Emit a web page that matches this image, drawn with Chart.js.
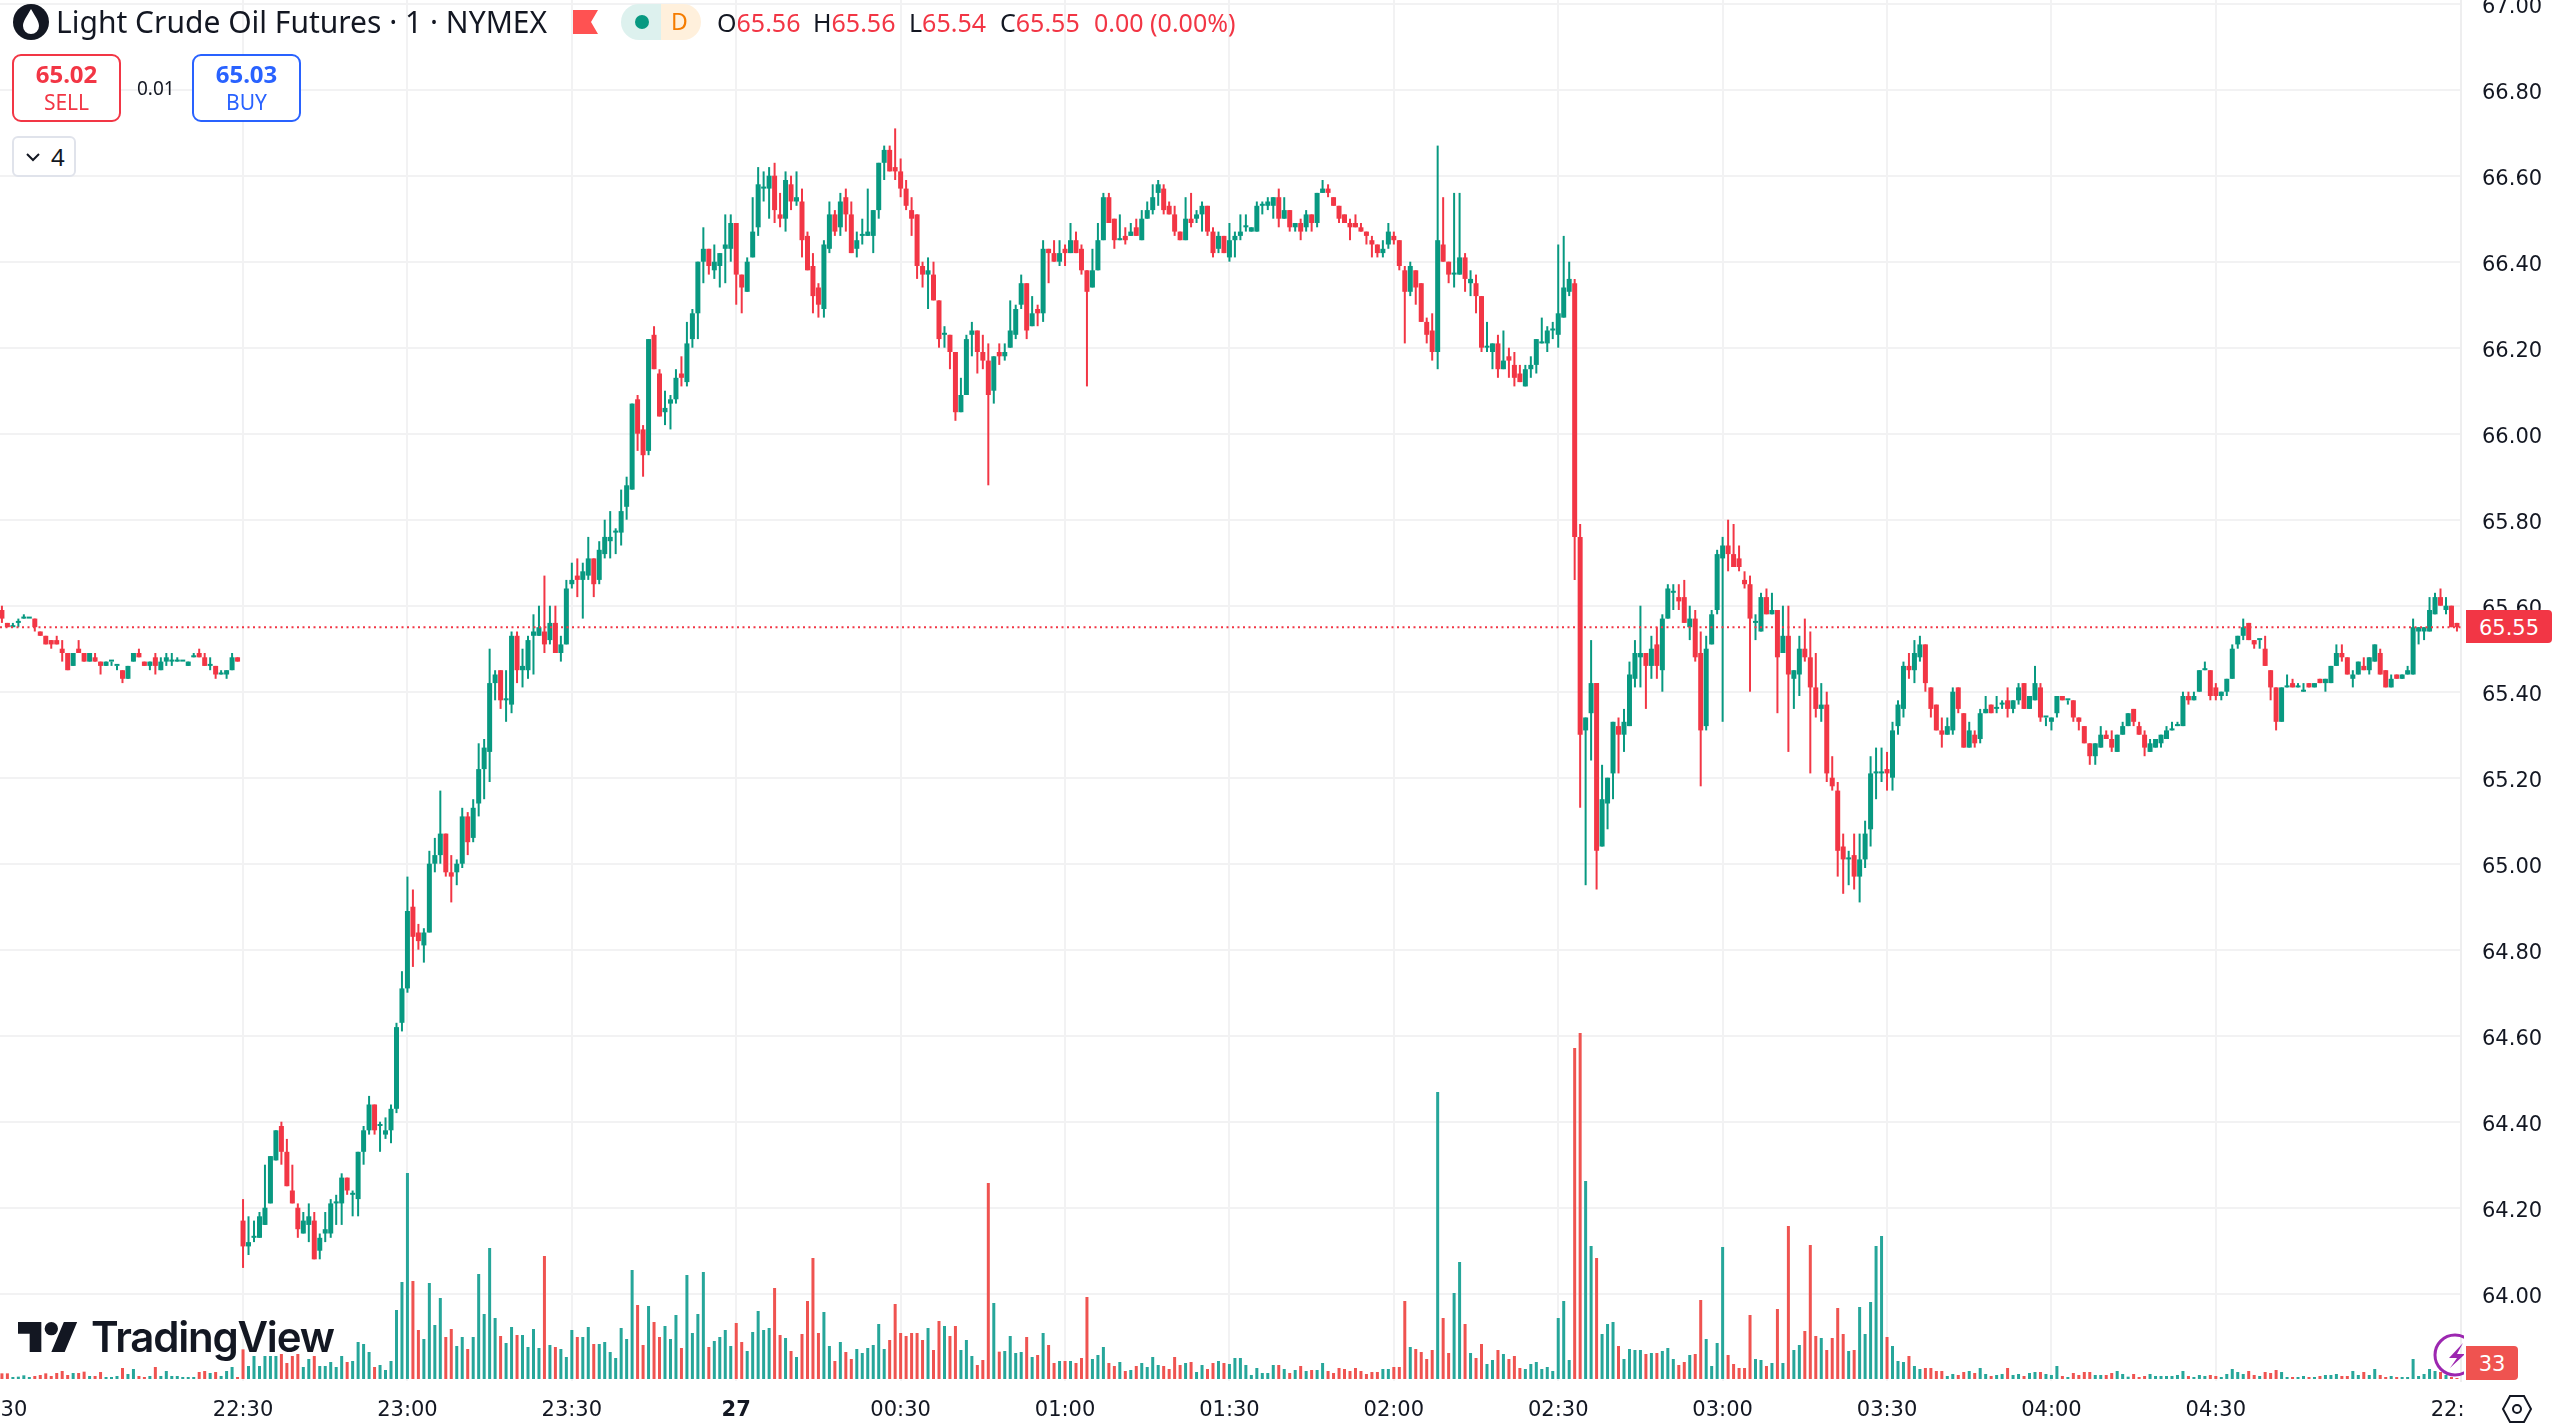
<!DOCTYPE html>
<html>
<head>
<meta charset="utf-8">
<title>Light Crude Oil Futures</title>
<script src="https://cdn.jsdelivr.net/npm/chart.js@4/dist/chart.umd.min.js"></script>
<style>
    html, body { margin: 0; padding: 0; background: #fff; overflow: hidden; }
    #wrap { position: relative; width: 2558px; height: 1428px; overflow: hidden; font-family: "Noto Sans", sans-serif; color: #131722; }
    canvas { position: absolute; left: 0; top: 0; }
    .lbl { position: absolute; white-space: nowrap; line-height: 1; }
    .red { color: #F23645; }
    .box { position: absolute; box-sizing: border-box; border-radius: 9px; border: 2px solid; background: #fff; }
</style>
</head>
<body>
<div id="wrap">
    <canvas id="myChart" width="2558" height="1428"></canvas>

    <svg class="lbl" style="left:12px;top:3px" width="38" height="38" viewBox="0 0 38 38">
        <circle cx="19" cy="19" r="18" fill="#131722"/>
        <path d="M19 6 C15 13 11 18 11 23 a8 8 0 0 0 16 0 C27 18 23 13 19 6Z" fill="#fff"/>
    </svg>
    <div class="lbl" style="left:56px;top:7px;font-size:30px">Light Crude Oil Futures · 1 · NYMEX</div>
    <svg class="lbl" style="left:573px;top:10px" width="25" height="24" viewBox="0 0 25 24">
        <path d="M0 0H25L18 12L25 24H0Z" fill="#FF5252"/>
    </svg>
    <svg class="lbl" style="left:621px;top:4px" width="80" height="36" viewBox="0 0 80 36">
        <path d="M18 0H40V36H18A18 18 0 0 1 18 0Z" fill="#DDF1EE"/>
        <path d="M40 0H62A18 18 0 0 1 62 36H40Z" fill="#FFF0DC"/>
        <circle cx="21" cy="18" r="7" fill="#089981"/>
    </svg>
    <div class="lbl" style="left:671px;top:10px;font-size:23px;color:#F57C00">D</div>
    <div class="lbl" style="left:717px;top:10px;font-size:25px">O<span class="red">65.56</span></div>
    <div class="lbl" style="left:813px;top:10px;font-size:25px">H<span class="red">65.56</span></div>
    <div class="lbl" style="left:909px;top:10px;font-size:25px">L<span class="red">65.54</span></div>
    <div class="lbl" style="left:1000px;top:10px;font-size:25px">C<span class="red">65.55</span></div>
    <div class="lbl red" style="left:1094px;top:10px;font-size:25px">0.00 (0.00%)</div>

    <div class="box" style="left:12px;top:54px;width:109px;height:68px;border-color:#F23645"></div>
    <div class="lbl red" style="left:12px;width:109px;text-align:center;top:62px;font-size:24px;font-weight:700">65.02</div>
    <div class="lbl red" style="left:12px;width:109px;text-align:center;top:92px;font-size:21px">SELL</div>
    <div class="lbl" style="left:137px;top:79px;font-size:19px">0.01</div>
    <div class="box" style="left:192px;top:54px;width:109px;height:68px;border-color:#2962FF"></div>
    <div class="lbl" style="left:192px;width:109px;text-align:center;top:62px;font-size:24px;font-weight:700;color:#2962FF">65.03</div>
    <div class="lbl" style="left:192px;width:109px;text-align:center;top:92px;font-size:21px;color:#2962FF">BUY</div>

    <div class="box" style="left:12px;top:136px;width:64px;height:41px;border-color:#e0e3eb;border-radius:6px"></div>
    <svg class="lbl" style="left:25px;top:152px" width="16" height="10" viewBox="0 0 16 10">
        <path d="M2 2L8 8L14 2" fill="none" stroke="#131722" stroke-width="2"/>
    </svg>
    <div class="lbl" style="left:51px;top:145px;font-size:24px">4</div>

    <svg class="lbl" style="left:18px;top:1322px" width="60" height="30" viewBox="0 4 36 18">
        <path d="M14 22H7V11H0V4h14v18zM28 22h-8l7.5-18h8L28 22z" fill="#131722"/>
        <circle cx="20" cy="8" r="4" fill="#131722"/>
    </svg>
    <div class="lbl" style="left:91px;top:1316px;font-size:42px;font-weight:600;font-family:Inter,sans-serif;letter-spacing:-1.2px">TradingView</div>

    <div class="lbl" style="left:2466px;top:610px;width:86px;height:33px;background:#F23645;color:#fff;border-radius:0 4px 4px 0;font:21px 'DejaVu Sans';line-height:37px;text-align:center;overflow:hidden">65.55</div>
    <div style="position:absolute;left:2425px;top:1330px;width:39px;height:50px;overflow:hidden">
        <svg width="60" height="50" viewBox="0 0 60 50">
            <circle cx="30" cy="25" r="20" fill="none" stroke="#9C27B0" stroke-width="3"/>
            <path d="M38 13L24 28H32L25 38L40 24H32Z" fill="#9C27B0"/>
        </svg>
    </div>
    <div class="lbl" style="left:2466px;top:1346px;width:52px;height:34px;background:#EF5350;color:#fff;border-radius:0 4px 4px 0;font:21px 'DejaVu Sans';line-height:36px;text-align:center;overflow:hidden">33</div>
    <svg class="lbl" style="left:2501px;top:1393px" width="32" height="32" viewBox="0 0 32 32">
        <path d="M9 3H23L30 16L23 29H9L2 16Z" fill="none" stroke="#131722" stroke-width="2"/>
        <circle cx="16" cy="16" r="4" fill="none" stroke="#131722" stroke-width="2"/>
    </svg>
</div>

<script>
const opens = [
    65.59,65.56,65.55,65.56,65.57,65.57,65.57,65.54,65.53,65.52,
    65.52,65.50,65.49,65.46,65.50,65.49,65.47,65.48,65.47,65.46,
    65.47,65.46,65.45,65.43,65.47,65.49,65.47,65.46,65.48,65.45,
    65.47,65.47,65.47,65.47,65.46,65.48,65.49,65.48,65.46,65.46,
    65.44,65.44,65.45,65.48,
    64.17,64.11,64.13,64.13,64.16,64.21,64.31,64.39,64.33,64.24,
    64.20,64.14,64.16,64.17,64.10,64.14,64.14,64.21,64.21,64.27,
    64.23,64.22,64.33,64.38,64.44,64.39,64.37,64.38,64.43,64.63,
    64.71,64.90,64.84,64.81,64.84,65.00,65.02,65.07,64.98,64.98,
    65.00,65.11,65.06,65.14,65.22,65.26,65.42,65.45,65.38,65.37,
    65.53,65.45,65.45,65.53,65.53,65.54,65.52,65.56,65.49,65.51,
    65.65,65.67,65.66,65.67,65.71,65.66,65.72,65.75,65.77,65.77,
    65.83,65.87,66.08,66.01,65.96,66.23,66.14,66.05,66.07,66.08,
    66.14,66.12,66.22,66.28,66.40,66.43,66.38,66.39,66.43,66.43,
    66.49,66.37,66.33,66.41,66.48,66.57,66.57,66.60,66.51,66.50,
    66.58,66.54,66.54,66.46,66.39,66.34,66.29,66.43,66.51,66.48,
    66.55,66.51,66.43,66.46,66.46,66.46,66.52,66.63,66.66,66.62,
    66.61,66.57,66.52,66.51,66.39,66.37,66.37,66.31,66.23,66.23,
    66.19,66.05,66.09,66.23,66.24,66.19,66.17,66.10,66.19,66.18,
    66.20,66.23,66.30,66.35,66.25,66.29,66.28,66.43,66.42,66.40,
    66.43,66.42,66.45,66.43,66.38,66.34,66.38,66.45,66.55,66.50,
    66.45,66.46,66.46,66.48,66.45,66.50,66.52,66.56,66.57,66.53,
    66.51,66.47,66.45,66.50,66.50,66.51,66.53,66.47,66.43,66.46,
    66.41,66.45,66.46,66.48,66.47,66.47,66.53,66.53,66.53,66.55,
    66.50,66.52,66.48,66.49,66.48,66.51,66.49,66.56,66.57,66.55,
    66.53,66.51,66.49,66.49,66.48,66.47,66.45,66.44,66.42,66.44,
    66.46,66.45,66.38,66.33,66.38,66.35,66.26,66.24,66.19,66.44,
    66.40,66.37,66.37,66.41,66.35,66.35,66.32,66.20,66.19,66.21,
    66.15,66.18,66.16,66.14,66.11,66.15,66.16,66.21,66.21,66.24,
    66.23,66.27,66.33,66.35,65.76,65.31,65.35,65.42,65.04,65.14,
    65.21,65.32,65.30,65.32,65.43,65.48,65.49,65.46,65.51,65.45,
    65.57,65.63,65.62,65.62,65.55,65.57,65.49,65.32,65.51,65.59,
    65.71,65.74,65.72,65.71,65.66,65.65,65.56,65.54,65.62,65.58,
    65.59,65.49,65.53,65.43,65.44,65.50,65.48,65.41,65.36,65.37,
    65.20,65.17,65.04,65.01,65.02,64.97,65.01,65.08,65.21,65.21,
    65.22,65.20,65.32,65.36,65.46,65.45,65.48,65.51,65.41,65.37,
    65.31,65.30,65.31,65.41,65.35,65.27,65.30,65.29,65.35,65.37,
    65.36,65.37,65.38,65.36,65.38,65.42,65.36,65.38,65.41,65.34,
    65.33,65.35,65.39,65.38,65.38,65.34,65.32,65.28,65.25,65.27,
    65.30,65.29,65.26,65.30,65.32,65.36,65.32,65.30,65.26,65.27,
    65.28,65.29,65.31,65.32,65.32,65.39,65.38,65.40,65.45,65.45,
    65.41,65.39,65.40,65.43,65.51,65.53,65.56,65.52,65.52,65.50,
    65.45,65.41,65.33,65.41,65.42,65.41,65.40,65.42,65.41,65.43,
    65.42,65.42,65.46,65.49,65.48,65.43,65.44,65.46,65.45,65.47,
    65.49,65.45,65.41,65.44,65.43,65.44,65.44,65.54,65.54,65.54,
    65.58,65.62,65.59,65.60,65.56
];
const highs = [
    65.60,65.56,65.56,65.57,65.58,65.57,65.57,65.54,65.53,65.52,
    65.53,65.52,65.49,65.49,65.52,65.49,65.49,65.49,65.47,65.47,
    65.47,65.46,65.45,65.46,65.49,65.50,65.47,65.47,65.49,65.48,
    65.49,65.49,65.48,65.47,65.47,65.49,65.50,65.49,65.48,65.46,
    65.45,65.45,65.49,65.48,
    64.22,64.18,64.17,64.19,64.30,64.32,64.38,64.40,64.36,64.30,
    64.21,64.19,64.21,64.19,64.14,64.19,64.22,64.23,64.28,64.27,
    64.24,64.33,64.39,64.46,64.44,64.40,64.41,64.44,64.63,64.75,
    64.97,64.94,64.86,64.85,65.03,65.06,65.17,65.07,65.02,65.01,
    65.13,65.12,65.15,65.28,65.29,65.50,65.45,65.45,65.45,65.54,
    65.54,65.50,65.53,65.58,65.60,65.67,65.60,65.60,65.53,65.66,
    65.70,65.71,65.70,65.76,65.71,65.75,65.80,65.82,65.78,65.87,
    65.90,66.07,66.09,66.02,66.22,66.25,66.15,66.10,66.09,66.15,
    66.18,66.26,66.29,66.40,66.48,66.43,66.44,66.42,66.51,66.51,
    66.49,66.37,66.41,66.55,66.62,66.61,66.62,66.63,66.56,66.61,
    66.60,66.61,66.57,66.47,66.42,66.35,66.45,66.54,66.52,66.56,
    66.57,66.54,66.47,66.50,66.57,66.52,66.63,66.67,66.67,66.71,
    66.64,66.59,66.55,66.51,66.40,66.41,66.40,66.31,66.25,66.23,
    66.19,66.13,66.23,66.26,66.24,66.23,66.21,66.18,66.21,66.21,
    66.31,66.30,66.37,66.35,66.32,66.30,66.45,66.43,66.45,66.45,
    66.44,66.49,66.47,66.44,66.38,66.43,66.49,66.56,66.56,66.50,
    66.51,66.48,66.49,66.50,66.52,66.54,66.58,66.59,66.58,66.54,
    66.53,66.47,66.55,66.56,66.52,66.54,66.53,66.48,66.47,66.46,
    66.49,66.47,66.51,66.51,66.48,66.54,66.54,66.55,66.55,66.57,
    66.55,66.52,66.49,66.50,66.52,66.51,66.56,66.59,66.58,66.55,
    66.53,66.51,66.50,66.51,66.49,66.47,66.46,66.44,66.45,66.49,
    66.47,66.45,66.39,66.40,66.38,66.35,66.27,66.28,66.67,66.55,
    66.40,66.56,66.56,66.42,66.38,66.37,66.32,66.26,66.21,66.23,
    66.24,66.20,66.19,66.16,66.16,66.18,66.22,66.27,66.25,66.26,
    66.44,66.46,66.40,66.36,65.79,65.34,65.52,65.42,65.23,65.20,
    65.33,65.34,65.36,65.47,65.52,65.60,65.49,65.53,65.55,65.58,
    65.65,65.65,65.65,65.66,65.60,65.59,65.54,65.53,65.59,65.73,
    65.76,65.80,65.79,65.74,65.68,65.67,65.58,65.63,65.64,65.63,
    65.59,65.60,65.60,65.45,65.53,65.57,65.54,65.49,65.42,65.40,
    65.25,65.19,65.07,65.03,65.07,65.07,65.10,65.25,65.27,65.27,
    65.26,65.33,65.38,65.47,65.49,65.52,65.53,65.51,65.41,65.37,
    65.34,65.34,65.41,65.41,65.35,65.33,65.31,65.36,65.39,65.37,
    65.39,65.38,65.41,65.38,65.42,65.42,65.39,65.46,65.42,65.34,
    65.34,65.39,65.39,65.38,65.38,65.34,65.32,65.28,65.28,65.32,
    65.31,65.31,65.30,65.33,65.35,65.36,65.33,65.31,65.29,65.29,
    65.30,65.32,65.33,65.33,65.40,65.40,65.40,65.45,65.47,65.45,
    65.42,65.40,65.43,65.51,65.53,65.57,65.56,65.52,65.52,65.53,
    65.45,65.41,65.41,65.44,65.43,65.42,65.42,65.42,65.42,65.43,
    65.43,65.46,65.51,65.51,65.48,65.45,65.47,65.48,65.48,65.51,
    65.50,65.45,65.44,65.44,65.44,65.46,65.57,65.55,65.55,65.62,
    65.63,65.64,65.62,65.60,65.56
];
const lows = [
    65.56,65.55,65.55,65.55,65.57,65.57,65.54,65.53,65.51,65.50,
    65.51,65.47,65.45,65.46,65.49,65.47,65.47,65.47,65.44,65.46,
    65.46,65.45,65.42,65.43,65.47,65.48,65.46,65.45,65.44,65.45,
    65.46,65.46,65.47,65.47,65.46,65.48,65.48,65.46,65.45,65.43,
    65.44,65.43,65.45,65.47,
    64.06,64.09,64.12,64.13,64.16,64.21,64.31,64.30,64.25,64.21,
    64.13,64.14,64.12,64.08,64.08,64.12,64.13,64.16,64.16,64.23,
    64.18,64.18,64.30,64.37,64.37,64.33,64.36,64.35,64.42,64.61,
    64.70,64.76,64.80,64.77,64.84,64.98,65.00,64.97,64.91,64.95,
    64.99,65.02,65.05,65.11,65.15,65.19,65.38,65.36,65.33,65.35,
    65.42,65.41,65.43,65.44,65.53,65.49,65.51,65.49,65.47,65.51,
    65.64,65.62,65.57,65.66,65.62,65.65,65.71,65.71,65.72,65.74,
    65.80,65.87,65.96,65.90,65.95,66.15,66.04,66.02,66.01,66.07,
    66.11,66.11,66.20,66.22,66.35,66.37,66.36,66.34,66.35,66.40,
    66.30,66.28,66.33,66.41,66.46,66.54,66.50,66.49,66.48,66.47,
    66.52,66.53,66.41,66.38,66.28,66.27,66.27,66.42,66.46,66.46,
    66.47,66.42,66.41,66.44,66.46,66.42,66.50,66.59,66.61,66.59,
    66.55,66.52,66.46,66.36,66.34,66.29,66.31,66.20,66.20,66.15,
    66.03,66.05,66.09,66.18,66.14,66.15,65.88,66.07,66.16,66.17,
    66.20,66.22,66.29,66.22,66.25,66.25,66.26,66.35,66.40,66.39,
    66.39,66.42,66.42,66.37,66.11,66.34,66.38,66.45,66.49,66.43,
    66.45,66.44,66.46,66.46,66.45,66.50,66.51,66.53,66.51,66.51,
    66.46,66.45,66.45,66.48,66.49,66.47,66.46,66.41,66.42,66.42,
    66.40,66.41,66.45,66.47,66.47,66.47,66.51,66.52,66.50,66.48,
    66.50,66.47,66.47,66.45,66.47,66.47,66.48,66.56,66.55,66.53,
    66.49,66.49,66.45,66.48,66.47,66.44,66.41,66.41,66.41,66.43,
    66.44,66.38,66.21,66.32,66.30,66.26,66.21,66.17,66.15,66.40,
    66.35,66.34,66.37,66.33,66.32,66.28,66.19,66.19,66.15,66.13,
    66.15,66.13,66.11,66.12,66.11,66.13,66.14,66.21,66.19,66.22,
    66.20,66.27,66.32,65.66,65.13,64.95,65.24,64.94,65.04,65.08,
    65.15,65.21,65.26,65.32,65.41,65.41,65.36,65.43,65.43,65.40,
    65.57,65.59,65.59,65.56,65.52,65.47,65.18,65.31,65.51,65.58,
    65.33,65.68,65.69,65.68,65.64,65.40,65.52,65.54,65.58,65.58,
    65.35,65.49,65.26,65.36,65.39,65.47,65.21,65.34,65.33,65.19,
    65.17,64.97,64.93,64.95,64.94,64.91,64.99,65.04,65.15,65.19,
    65.17,65.17,65.30,65.34,65.43,65.42,65.47,65.40,65.34,65.31,
    65.27,65.30,65.30,65.35,65.27,65.27,65.27,65.28,65.35,65.35,
    65.35,65.36,65.34,65.35,65.37,65.36,65.36,65.38,65.33,65.32,
    65.31,65.34,65.38,65.37,65.33,65.31,65.28,65.23,65.23,65.27,
    65.29,65.26,65.26,65.30,65.32,65.32,65.30,65.25,65.26,65.27,
    65.27,65.29,65.31,65.32,65.32,65.37,65.38,65.40,65.45,65.38,
    65.38,65.38,65.39,65.43,65.50,65.52,65.52,65.50,65.50,65.46,
    65.38,65.31,65.33,65.41,65.41,65.41,65.40,65.41,65.41,65.42,
    65.40,65.42,65.46,65.47,65.44,65.41,65.44,65.45,65.44,65.47,
    65.44,65.41,65.41,65.43,65.43,65.44,65.44,65.51,65.52,65.54,
    65.58,65.60,65.58,65.55,65.54
];
const closes = [
    65.57,65.55,65.55,65.56,65.57,65.57,65.55,65.53,65.51,65.51,
    65.51,65.49,65.45,65.49,65.49,65.47,65.49,65.47,65.46,65.47,
    65.47,65.46,65.43,65.46,65.49,65.48,65.46,65.47,65.46,65.47,
    65.48,65.47,65.47,65.47,65.47,65.48,65.48,65.46,65.46,65.44,
    65.44,65.45,65.48,65.47,
    64.11,64.12,64.13,64.18,64.20,64.32,64.38,64.33,64.25,64.21,
    64.15,64.17,64.18,64.08,64.13,64.15,64.21,64.21,64.27,64.24,
    64.23,64.33,64.38,64.44,64.38,64.39,64.38,64.43,64.62,64.71,
    64.89,64.83,64.82,64.84,65.00,65.02,65.07,64.98,64.97,65.00,
    65.11,65.05,65.13,65.22,65.27,65.42,65.44,65.38,65.38,65.53,
    65.45,65.46,65.52,65.54,65.55,65.51,65.56,65.49,65.51,65.64,
    65.66,65.66,65.68,65.71,65.65,65.73,65.76,65.76,65.77,65.82,
    65.88,66.07,66.00,65.95,66.22,66.15,66.04,66.06,66.08,66.13,
    66.13,66.21,66.28,66.40,66.43,66.39,66.40,66.42,66.44,66.49,
    66.37,66.34,66.40,66.47,66.58,66.57,66.60,66.52,66.50,66.59,
    66.54,66.55,66.45,66.38,66.32,66.30,66.44,66.51,66.47,66.54,
    66.51,66.42,66.45,66.46,66.47,66.52,66.63,66.66,66.61,66.61,
    66.57,66.53,66.50,66.39,66.37,66.38,66.31,66.22,66.23,66.19,
    66.05,66.09,66.22,66.24,66.19,66.17,66.09,66.18,66.18,66.19,
    66.24,66.29,66.35,66.24,66.28,66.28,66.43,66.42,66.40,66.42,
    66.42,66.45,66.42,66.38,66.33,66.38,66.45,66.55,66.49,66.45,
    66.45,66.45,66.47,66.46,66.50,66.52,66.55,66.58,66.52,66.51,
    66.47,66.45,66.50,66.49,66.51,66.53,66.47,66.42,66.46,66.42,
    66.45,66.46,66.47,66.48,66.48,66.53,66.53,66.54,66.55,66.50,
    66.52,66.48,66.49,66.47,66.51,66.49,66.56,66.57,66.56,66.53,
    66.50,66.49,66.48,66.48,66.47,66.46,66.44,66.42,66.43,66.47,
    66.45,66.39,66.33,66.39,66.34,66.26,66.23,66.19,66.45,66.40,
    66.37,66.37,66.41,66.36,66.36,66.32,66.20,66.20,66.21,66.15,
    66.17,66.17,66.13,66.12,66.15,66.16,66.22,66.21,66.24,66.24,
    66.28,66.34,66.36,65.76,65.30,65.34,65.42,65.03,65.15,65.20,
    65.33,65.30,65.33,65.44,65.49,65.49,65.46,65.50,65.46,65.57,
    65.64,65.63,65.61,65.56,65.57,65.48,65.31,65.50,65.58,65.72,
    65.74,65.72,65.69,65.69,65.65,65.57,65.56,65.62,65.58,65.59,
    65.48,65.53,65.44,65.45,65.50,65.48,65.41,65.36,65.37,65.21,
    65.18,65.03,65.01,65.01,64.97,65.01,65.07,65.21,65.21,65.21,
    65.21,65.31,65.37,65.46,65.45,65.49,65.51,65.42,65.36,65.31,
    65.30,65.32,65.40,65.36,65.27,65.31,65.28,65.35,65.36,65.35,
    65.36,65.37,65.36,65.38,65.41,65.36,65.39,65.42,65.34,65.34,
    65.34,65.39,65.38,65.38,65.34,65.33,65.28,65.25,65.28,65.30,
    65.29,65.27,65.30,65.32,65.35,65.33,65.30,65.27,65.28,65.29,
    65.30,65.31,65.31,65.32,65.39,65.38,65.39,65.45,65.45,65.39,
    65.39,65.40,65.43,65.50,65.53,65.55,65.52,65.51,65.52,65.46,
    65.41,65.33,65.41,65.41,65.41,65.41,65.40,65.41,65.42,65.42,
    65.43,65.46,65.49,65.48,65.44,65.44,65.47,65.45,65.48,65.51,
    65.44,65.41,65.43,65.43,65.44,65.45,65.55,65.55,65.55,65.59,
    65.62,65.60,65.60,65.55,65.55
];
const volumes = [
    187,187,66,77,121,66,99,132,187,99,
    198,264,132,198,198,242,99,99,231,66,
    66,99,363,165,330,99,66,99,396,99,
    264,99,99,66,66,66,231,264,198,231,
    99,264,396,66,
    979,429,759,429,759,759,759,825,528,759,
    825,396,660,759,429,429,561,396,759,561,
    594,1221,1155,891,396,462,297,594,2277,3201,
    6798,3234,1617,1320,3168,1782,2673,1386,1650,1089,
    1386,990,1386,3465,2145,4323,2013,1419,1188,1716,
    1452,1452,1056,1650,1023,4059,1122,1056,990,726,
    1617,1386,1386,1716,1155,1155,1221,891,693,1683,
    1320,3597,2442,1122,2409,1881,1386,1749,1320,2112,
    1023,3432,1518,2145,3531,1056,1254,1386,1617,1089,
    1848,1221,924,1551,2244,1617,1683,3003,1452,1353,
    924,726,1485,2574,3993,1518,2211,1089,594,1221,
    891,660,990,858,1023,1122,1815,990,1287,2475,
    1518,1419,1518,1518,1287,1683,957,1914,1749,1419,
    1749,957,1287,759,462,627,6468,2508,902,924,
    1419,858,891,1386,726,792,1518,1122,528,594,
    594,594,528,693,2706,660,792,1056,528,429,
    561,264,297,429,528,396,726,462,429,330,
    726,462,528,561,231,462,330,528,594,528,
    495,693,693,462,132,363,198,198,462,462,
    330,198,297,429,264,297,297,528,264,198,
    363,330,264,363,264,165,231,231,330,330,
    396,396,2574,1056,990,891,660,957,9471,2013,
    858,2838,3861,1815,858,693,1155,495,627,957,
    825,660,759,363,330,495,561,330,396,264,
    2013,2574,627,10923,11418,6534,4389,3993,1485,1815,
    1881,1089,660,990,957,957,825,858,858,924,
    1023,660,462,561,792,825,2607,1320,429,1188,
    4356,792,495,363,363,2112,660,627,429,528,
    2310,528,5049,957,1122,1584,4422,1419,1353,957,
    1353,2343,1485,924,957,2376,1485,2541,4389,4719,
    1386,1089,594,561,759,429,330,363,363,264,
    264,99,165,132,231,264,198,363,165,99,
    132,165,363,132,165,99,198,231,231,165,
    132,429,99,66,198,132,231,231,132,132,
    132,198,264,165,77,165,66,99,165,99,
    99,99,99,132,264,99,66,132,99,132,
    99,66,165,330,231,165,264,132,99,231,
    198,297,231,66,66,66,99,66,66,99,
    132,132,165,99,99,264,132,231,132,330,
    132,66,99,66,66,66,660,99,165,330,
    264,231,132,66,33
];
const priceTicks = [64.00,64.20,64.40,64.60,64.80,65.00,65.20,65.40,65.60,65.80,66.00,66.20,66.40,66.60,66.80,67.00];
const timeLabels = ['30','22:30','23:00','23:30','27','00:30','01:00','01:30','02:00','02:30','03:00','03:30','04:00','04:30','22:'];
const timeBars = [2.2,44,74,104,134,164,194,224,254,284,314,344,374,404,446.3];
const lastPrice = 65.55;

(function () {

    var UP = '#089981', DOWN = '#F23645';
    var VOL_UP = '#26a69a', VOL_DOWN = '#ef5350';
    var GRID = '#f2f2f3';
    var FONT = 'DejaVu Sans';

    var isUp = opens.map(function (o, i) { return closes[i] >= o; });
    var wicks = opens.map(function (o, i) { return { x: i, y: [lows[i], highs[i]] }; });
    var bodies = opens.map(function (o, i) { return { x: i, y: [o, closes[i]] }; });
    var vols = volumes.map(function (v, i) { return { x: i, y: v }; });
    var candleColors = isUp.map(function (u) { return u ? UP : DOWN; });
    var volColors = isUp.map(function (u) { return u ? VOL_UP : VOL_DOWN; });

    var xMin = -0.35, xMax = 448.74;

    function noPadding(s) {
        s.paddingLeft = 0;
        s.paddingRight = 0;
        s.paddingTop = 0;
        s.paddingBottom = 0;
    }

    new Chart(document.getElementById('myChart').getContext('2d'), {
        type: 'bar',
        data: {
            datasets: [
                {
                    type: 'line', data: [{ x: xMin, y: lastPrice }, { x: xMax, y: lastPrice }],
                    yAxisID: 'y', borderColor: DOWN, borderWidth: 2, borderDash: [2, 3.5],
                    pointRadius: 0, order: 1
                },
                {
                    data: bodies, yAxisID: 'y', backgroundColor: candleColors, barThickness: 5,
                    minBarLength: 2, grouped: false, inflateAmount: 0, order: 2
                },
                {
                    data: wicks, yAxisID: 'y', backgroundColor: candleColors, barThickness: 2,
                    grouped: false, inflateAmount: 0, order: 3
                },
                {
                    data: vols, yAxisID: 'vol', backgroundColor: volColors, barThickness: 3,
                    grouped: false, inflateAmount: 0, order: 4
                }
            ]
        },
        options: {
            responsive: false,
            animation: false,
            devicePixelRatio: 1,
            layout: { padding: 0 },
            plugins: { legend: { display: false }, tooltip: { enabled: false } },
            scales: {
                x: {
                    type: 'linear',
                    position: 'bottom',
                    offset: false,
                    min: xMin,
                    max: xMax,
                    afterFit: function (s) { s.height = 47; noPadding(s); },
                    afterBuildTicks: function (s) {
                        s.ticks = timeBars.map(function (v) { return { value: v }; });
                    },
                    grid: {
                        offset: false,
                        drawTicks: false,
                        lineWidth: 2,
                        color: function (ctx) {
                            return (ctx.index === 0 || ctx.index === timeBars.length - 1) ? 'rgba(0,0,0,0)' : GRID;
                        }
                    },
                    border: { display: false },
                    ticks: {
                        autoSkip: false,
                        maxRotation: 0,
                        padding: 17,
                        color: '#131722',
                        font: function (ctx) {
                            return { family: FONT, size: 21, weight: timeLabels[ctx.index] === '27' ? 'bold' : 'normal' };
                        },
                        callback: function (v, i) { return timeLabels[i]; }
                    }
                },
                y: {
                    position: 'right',
                    min: 63.797,
                    max: 67.0086,
                    afterFit: function (s) { s.width = 97; noPadding(s); },
                    afterBuildTicks: function (s) {
                        s.ticks = priceTicks.map(function (v) { return { value: v }; });
                    },
                    grid: { drawTicks: false, lineWidth: 2, color: GRID },
                    border: { display: true, color: '#eeeeef', width: 2 },
                    ticks: {
                        autoSkip: false,
                        padding: 21,
                        labelOffset: 4,
                        color: '#131722',
                        font: { family: FONT, size: 21 },
                        callback: function (v) { return v.toFixed(2); }
                    }
                },
                vol: {
                    display: false,
                    position: 'left',
                    min: -66,
                    max: 45507
                }
            }
        }
    });

})();
</script>
</body>
</html>
